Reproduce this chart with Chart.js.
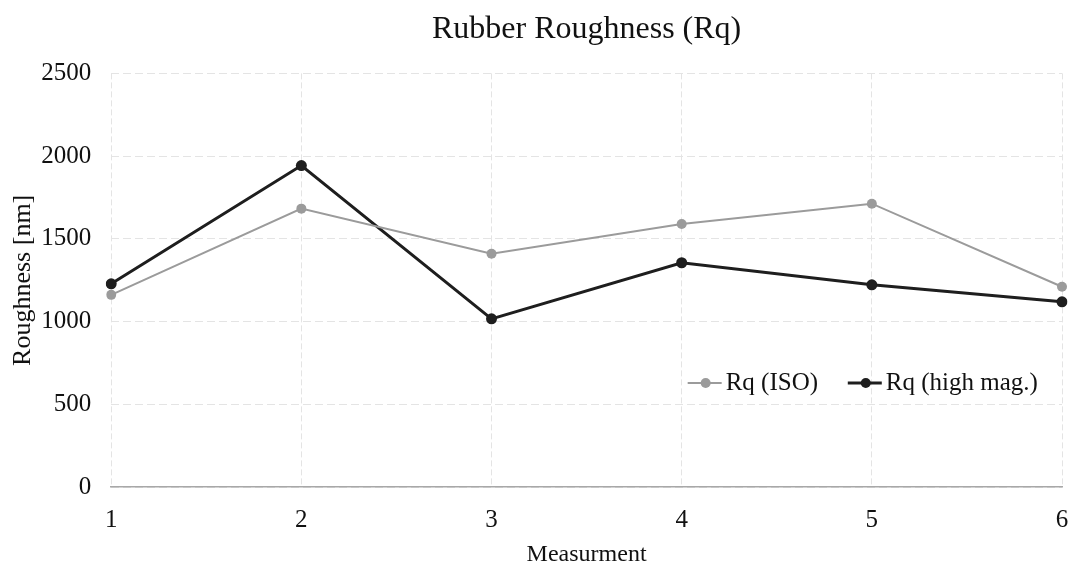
<!DOCTYPE html>
<html>
<head>
<meta charset="utf-8">
<script src="https://cdn.jsdelivr.net/npm/chart.js@4.4.1/dist/chart.umd.min.js"></script>
<style>
  html, body { margin: 0; padding: 0; background: #fff; }
  #wrap { width: 1075px; height: 571px; }
</style>
</head>
<body>
<div id="wrap"><canvas id="chart" width="1075" height="571"></canvas></div>
<script>
var measurements = ['1', '2', '3', '4', '5', '6'];
var rqIso = [1162, 1683, 1410, 1590, 1713, 1211];
var rqHighMag = [1229, 1943, 1017, 1356, 1223, 1120];
var yTicks = [0, 500, 1000, 1500, 2000, 2500];

var FONT = '"Liberation Serif", "Times New Roman", serif';
var isoColor = '#9b9b9b';
var highColor = '#1e1e1e';

// legend drawn inside the plot, lower right
var insideLegend = {
  id: 'insideLegend',
  afterDraw: function(chart) {
    var ctx = chart.ctx, area = chart.chartArea;
    var y = chart.scales.y.getPixelForValue(630);
    var w = area.right - area.left;
    var items = [
      { label: 'Rq (ISO)', color: isoColor, lw: 2, x: area.left + w * 0.6063 },
      { label: 'Rq (high mag.)', color: highColor, lw: 3, x: area.left + w * 0.7747 }
    ];
    ctx.save();
    ctx.font = '25px ' + FONT;
    ctx.textBaseline = 'middle';
    items.forEach(function(it) {
      ctx.strokeStyle = it.color;
      ctx.lineWidth = it.lw;
      ctx.beginPath();
      ctx.moveTo(it.x, y);
      ctx.lineTo(it.x + 34, y);
      ctx.stroke();
      ctx.fillStyle = it.color;
      ctx.beginPath();
      ctx.arc(it.x + 18, y, 5, 0, Math.PI * 2);
      ctx.fill();
      ctx.fillStyle = '#111';
      ctx.fillText(it.label, it.x + 38, y + 1);
    });
    ctx.restore();
  }
};

new Chart(document.getElementById('chart').getContext('2d'), {
  type: 'line',
  data: {
    labels: measurements,
    datasets: [
      {
        label: 'Rq (ISO)',
        data: rqIso,
        borderColor: isoColor,
        backgroundColor: isoColor,
        borderWidth: 2,
        pointRadius: 5,
        pointBorderWidth: 0,
        tension: 0
      },
      {
        label: 'Rq (high mag.)',
        data: rqHighMag,
        borderColor: highColor,
        backgroundColor: highColor,
        borderWidth: 3,
        pointRadius: 5.5,
        pointBorderWidth: 0,
        tension: 0
      }
    ]
  },
  options: {
    responsive: false,
    animation: false,
    layout: { padding: { left: 8, right: 0, top: 0, bottom: 2 } },
    plugins: {
      legend: { display: false },
      tooltip: { enabled: false },
      title: {
        display: true,
        fullSize: false,
        text: 'Rubber Roughness (Rq)',
        color: '#111',
        font: { family: FONT, size: 32, weight: 'normal' },
        padding: { top: 10, bottom: 25 }
      }
    },
    scales: {
      x: {
        offset: false,
        afterFit: function(scale) { scale.paddingRight = 13; },
        grid: { color: '#e4e4e4', drawTicks: false, offset: false },
        border: { display: true, color: '#a8a8a8', width: 1.5, dash: [6, 3] },
        ticks: { color: '#111', padding: 18, font: { family: FONT, size: 25 } },
        title: {
          display: true,
          text: 'Measurment',
          color: '#111',
          font: { family: FONT, size: 24 },
          padding: { top: -13, bottom: 0 }
        }
      },
      y: {
        min: 0,
        max: 2500,
        afterBuildTicks: function(axis) {
          axis.ticks = yTicks.map(function(v) { return { value: v }; });
        },
        grid: { color: '#e4e4e4', drawTicks: false },
        border: { display: false, dash: [8, 4] },
        ticks: {
          color: '#111',
          padding: 20,
          font: { family: FONT, size: 25 },
          callback: function(v) { return String(v); }
        },
        title: {
          display: true,
          text: 'Roughness [nm]',
          color: '#111',
          font: { family: FONT, size: 26 },
          padding: { top: 0, bottom: -18 }
        }
      }
    }
  },
  plugins: [insideLegend]
});
</script>
</body>
</html>
